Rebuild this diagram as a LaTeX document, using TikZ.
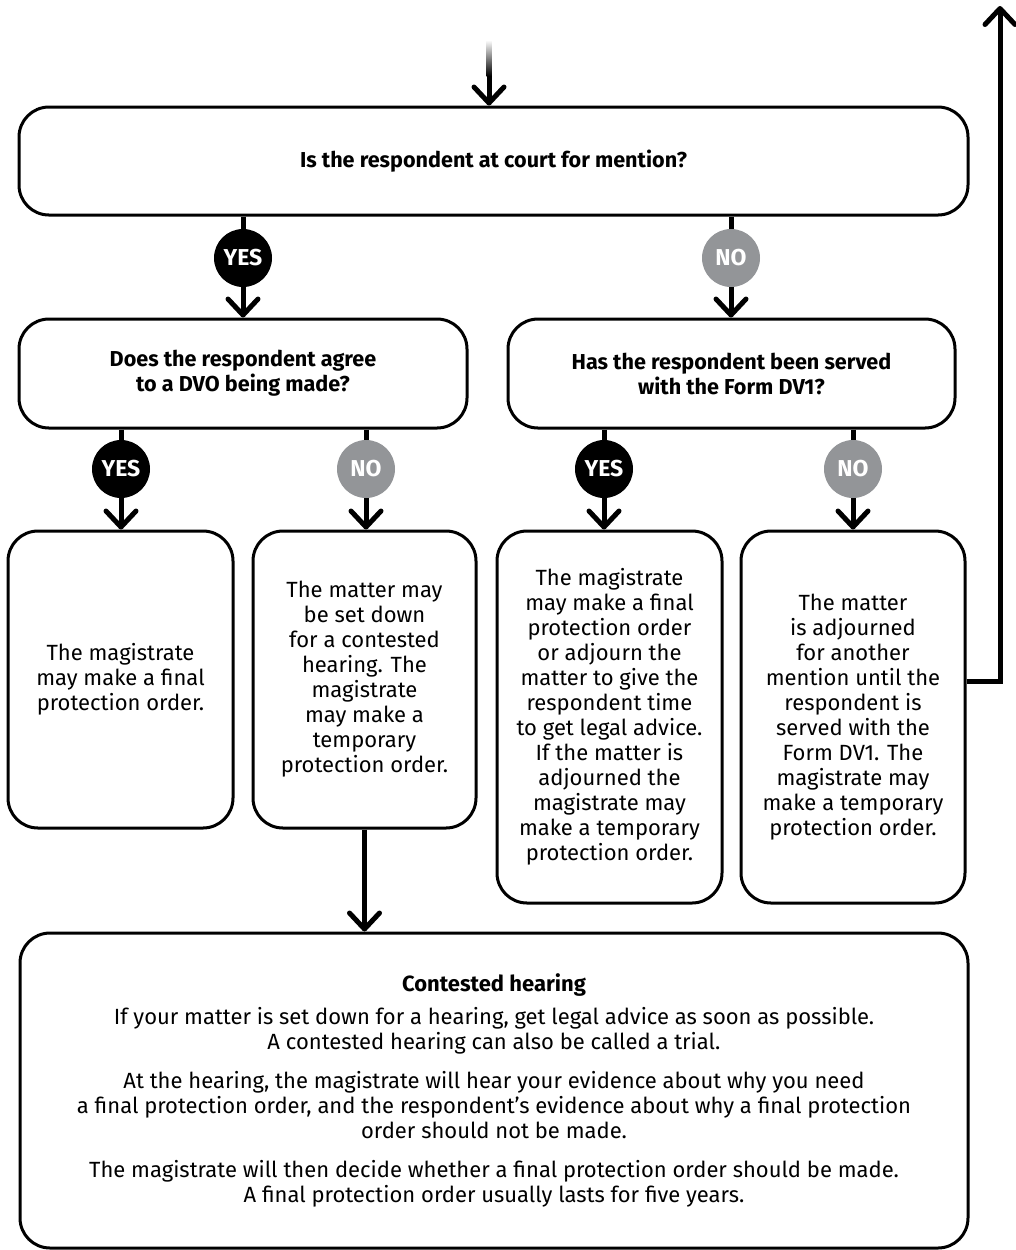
\documentclass[tikz,border=0pt]{standalone}
\usepackage{fontspec}
\setmainfont{Fira Sans}
\usetikzlibrary{arrows.meta,positioning,calc}
\definecolor{nogray}{RGB}{147,149,152}
\tikzset{
  qbox/.style={draw, line width=1.5pt, rounded corners=15pt, align=center, inner sep=0pt,
    font=\fontsize{10.8}{12.5}\selectfont\bfseries},
  abox/.style={draw, line width=1.5pt, rounded corners=15pt, align=center, inner sep=0pt,
    font=\fontsize{11}{12.5}\selectfont},
  ydot/.style={circle, fill=black, text=white, minimum size=29pt, inner sep=0pt,
    font=\fontsize{11.5}{13}\selectfont\bfseries},
  ndot/.style={ydot, fill=nogray},
  dlin/.style={line width=2.5pt},
  darr/.style={line width=2.5pt, -{Straight Barb[length=8pt, width=15pt, round]}},
}

\begin{document}
\begin{tikzpicture}[x=0.5pt, y=-0.5pt]
\useasboundingbox (0,0) rectangle (1016,1250);
\node[qbox, minimum width=474.5pt, minimum height=54pt] (q1) at (493.5,161)
  {Is the respondent at court for mention?};
\node[qbox, minimum width=224pt, minimum height=54.5pt] (q2) at (243,373.5)
  {Does the respondent agree\\to a DVO being made?};
\node[qbox, minimum width=223.5pt, minimum height=54.5pt] (q3) at (731.5,373.5)
  {Has the respondent been served\\with the Form DV1?};
\node[abox, minimum width=112.5pt, minimum height=148.5pt] (a1) at (120.5,679.5)
  {The magistrate\\may make a final\\protection order.};
\node[abox, minimum width=111.5pt, minimum height=148.5pt] (a2) at (364.5,679.5)
  {The matter may\\be set down\\for a contested\\hearing. The\\magistrate\\may make a\\temporary\\protection order.};
\node[abox, minimum width=112.5pt, minimum height=186pt] (a3) at (609.5,717)
  {The magistrate\\may make a final\\protection order\\or adjourn the\\matter to give the\\respondent time\\to get legal advice.\\If the matter is\\adjourned the\\magistrate may\\make a temporary\\protection order.};
\node[abox, minimum width=112pt, minimum height=186pt] (a4) at (853,717)
  {The matter\\is adjourned\\for another\\mention until the\\respondent is\\served with the\\Form DV1. The\\magistrate may\\make a temporary\\protection order.};
\node[abox, minimum width=474pt, minimum height=157.5pt] (ch) at (494,1090.5)
  {\textbf{Contested hearing}\\[4pt]
   If your matter is set down for a hearing, get legal advice as soon as possible.\\
   A contested hearing can also be called a trial.\\[7pt]
   At the hearing, the magistrate will hear your evidence about why you need\\
   a final protection order, and the respondent’s evidence about why a final protection\\
   order should not be made.\\[7pt]
   The magistrate will then decide whether a final protection order should be made.\\
   A final protection order usually lasts for five years.};

\node[ydot] (y1) at (243,258) {YES};
\node[ndot] (n1) at (731,258) {NO};
\node[ydot] (y2) at (121,469) {YES};
\node[ndot] (n2) at (366,469) {NO};
\node[ydot] (y3) at (604,469) {YES};
\node[ndot] (n3) at (853,469) {NO};

\coordinate (top) at (489,76);
\coordinate (back) at (1000,6);
\shade[top color=white, bottom color=black] (486.5,40) rectangle (491.5,76);
\draw[darr] (top) -- (top |- q1.north);

\draw[dlin] (q1.south -| y1) -- (y1);
\draw[darr] (y1) -- (q2.north -| y1);
\draw[dlin] (q1.south -| n1) -- (n1);
\draw[darr] (n1) -- (q3.north -| n1);

\draw[dlin] (q2.south -| y2) -- (y2);
\draw[darr] (y2) -- (a1.north -| y2);
\draw[dlin] (q2.south -| n2) -- (n2);
\draw[darr] (n2) -- (a2.north -| n2);
\draw[dlin] (q3.south -| y3) -- (y3);
\draw[darr] (y3) -- (a3.north -| y3);
\draw[dlin] (q3.south -| n3) -- (n3);
\draw[darr] (n3) -- (a4.north -| n3);

\draw[darr] (a2.south) -- (a2.south |- ch.north);
\draw[darr] ([yshift=18pt]a4.east) -| (back);
\end{tikzpicture}
\end{document}
